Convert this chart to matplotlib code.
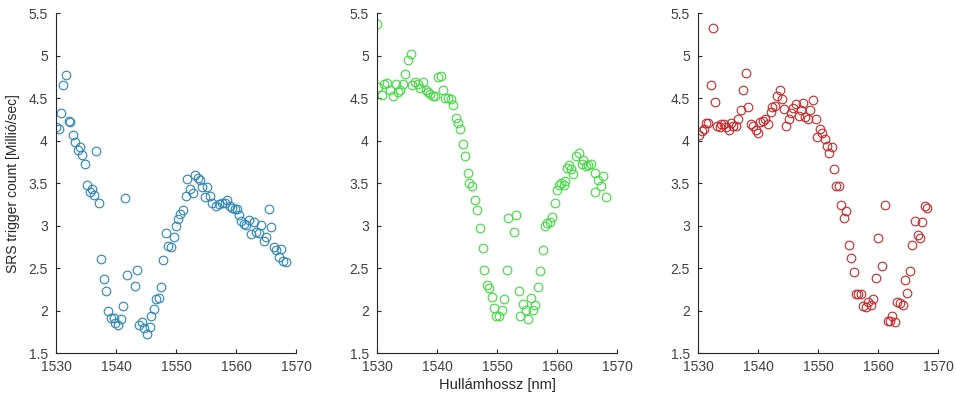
import matplotlib
matplotlib.use("Agg")
import matplotlib.pyplot as plt

plt.rcParams["font.family"] = ["Liberation Sans", "DejaVu Sans"]

# ── Data ──────────────────────────────────────────────────────────────────────
blue_x = [1530.0, 1530.5, 1530.8, 1531.1, 1531.6, 1532.1, 1532.4, 1532.8, 1533.2, 1533.6,
          1534.0, 1534.3, 1534.8, 1535.2, 1535.6, 1536.0, 1536.4, 1536.7, 1537.1, 1537.5,
          1538.0, 1538.4, 1538.7, 1539.2, 1539.6, 1539.9, 1540.4, 1540.8, 1541.1, 1541.5,
          1541.9, 1543.1, 1543.5, 1543.9, 1544.3, 1544.7, 1545.1, 1545.6, 1545.9, 1546.3,
          1546.7, 1547.1, 1547.5, 1547.9, 1548.3, 1548.7, 1549.2, 1549.6, 1550.0, 1550.3,
          1550.7, 1551.2, 1551.6, 1551.9, 1552.4, 1552.8, 1553.2, 1553.6, 1554.0, 1554.3,
          1554.8, 1555.2, 1555.6, 1556.0, 1556.7, 1557.2, 1557.7, 1558.1, 1558.5, 1559.0,
          1559.4, 1559.9, 1560.1, 1560.5, 1560.9, 1561.3, 1561.7, 1562.1, 1562.5, 1563.0,
          1563.4, 1563.8, 1564.2, 1564.7, 1565.0, 1565.5, 1565.9, 1566.3, 1566.7, 1567.1,
          1567.5, 1567.9, 1568.4]
blue_y = [4.16, 4.14, 4.33, 4.66, 4.77, 4.23, 4.22, 4.07, 3.98, 3.89,
          3.93, 3.83, 3.72, 3.48, 3.39, 3.43, 3.36, 3.88, 3.27, 2.61,
          2.37, 2.23, 2.00, 1.91, 1.91, 1.85, 1.83, 1.90, 2.05, 3.32,
          2.42, 2.29, 2.48, 1.83, 1.87, 1.79, 1.72, 1.81, 1.93, 2.02,
          2.14, 2.15, 2.28, 2.60, 2.91, 2.76, 2.75, 2.87, 2.99, 3.08,
          3.14, 3.18, 3.35, 3.55, 3.43, 3.38, 3.60, 3.56, 3.54, 3.45,
          3.34, 3.45, 3.35, 3.27, 3.23, 3.25, 3.27, 3.27, 3.30, 3.23,
          3.21, 3.20, 3.19, 3.12, 3.05, 3.02, 3.01, 3.07, 2.90, 3.04,
          2.93, 2.91, 3.01, 2.82, 2.86, 3.19, 2.98, 2.75, 2.71, 2.63,
          2.73, 2.58, 2.57]

green_x = [1530.0, 1530.2, 1530.8, 1531.2, 1531.6, 1532.1, 1532.7, 1533.1, 1533.5, 1533.9,
           1534.3, 1534.7, 1535.1, 1535.6, 1535.9, 1536.4, 1536.8, 1537.2, 1537.7, 1538.1,
           1538.5, 1538.9, 1539.3, 1539.7, 1540.2, 1540.6, 1541.0, 1541.4, 1541.8, 1542.3,
           1542.7, 1543.1, 1543.5, 1543.9, 1544.3, 1544.7, 1545.1, 1545.4, 1545.8, 1546.3,
           1546.7, 1547.1, 1547.6, 1547.9, 1548.3, 1548.7, 1549.1, 1549.5, 1549.9, 1550.3,
           1550.8, 1551.1, 1551.6, 1551.9, 1552.8, 1553.2, 1553.6, 1553.9, 1554.3, 1554.8,
           1555.2, 1555.6, 1556.0, 1556.4, 1556.8, 1557.2, 1557.6, 1558.0, 1558.4, 1558.8,
           1559.2, 1559.6, 1560.0, 1560.3, 1560.7, 1561.1, 1561.3, 1561.6, 1562.0, 1562.4,
           1562.7, 1563.2, 1563.7, 1564.1, 1564.4, 1564.8, 1565.2, 1565.7, 1566.3, 1566.4,
           1566.8, 1567.3, 1567.6, 1568.2]
green_y = [5.37, 4.63, 4.54, 4.67, 4.68, 4.60, 4.52, 4.67, 4.57, 4.59,
           4.67, 4.78, 4.95, 5.02, 4.65, 4.69, 4.67, 4.62, 4.69, 4.59,
           4.57, 4.55, 4.52, 4.53, 4.75, 4.76, 4.60, 4.50, 4.50, 4.49,
           4.42, 4.27, 4.21, 4.14, 3.96, 3.82, 3.62, 3.50, 3.47, 3.30,
           3.18, 2.97, 2.74, 2.48, 2.30, 2.26, 2.16, 2.03, 1.94, 1.93,
           2.01, 2.13, 2.48, 3.09, 2.92, 3.13, 2.23, 1.94, 2.08, 2.01,
           1.90, 2.15, 2.01, 2.06, 2.28, 2.46, 2.71, 2.99, 3.03, 3.04,
           3.10, 3.26, 3.42, 3.48, 3.50, 3.48, 3.52, 3.68, 3.71, 3.67,
           3.61, 3.82, 3.85, 3.73, 3.77, 3.70, 3.71, 3.73, 3.40, 3.62,
           3.54, 3.46, 3.58, 3.34]

red_x = [1530.2, 1530.6, 1531.0, 1531.3, 1531.7, 1532.1, 1532.5, 1532.8, 1533.2, 1533.6,
         1533.9, 1534.3, 1534.6, 1535.1, 1535.5, 1535.9, 1536.3, 1536.7, 1537.1, 1537.5,
         1538.0, 1538.3, 1538.8, 1539.1, 1539.6, 1540.0, 1540.4, 1540.8, 1541.2, 1541.6,
         1542.1, 1542.4, 1542.8, 1543.1, 1543.6, 1544.0, 1544.3, 1544.7, 1545.1, 1545.5,
         1545.9, 1546.3, 1546.8, 1547.1, 1547.5, 1547.9, 1548.3, 1548.7, 1549.1, 1549.6,
         1549.9, 1550.4, 1550.7, 1551.1, 1551.5, 1551.9, 1552.3, 1552.7, 1553.0, 1553.5,
         1553.9, 1554.4, 1554.7, 1555.2, 1555.5, 1556.0, 1556.3, 1556.7, 1557.2, 1557.5,
         1558.0, 1558.4, 1558.8, 1559.2, 1559.6, 1560.0, 1560.7, 1561.2, 1561.6, 1562.0,
         1562.4, 1562.9, 1563.2, 1563.6, 1564.1, 1564.5, 1564.9, 1565.3, 1565.7, 1566.2,
         1566.6, 1567.0, 1567.4, 1567.8, 1568.2]
red_y = [4.07, 4.11, 4.14, 4.21, 4.21, 4.65, 5.32, 4.45, 4.17, 4.16,
         4.20, 4.19, 4.16, 4.12, 4.21, 4.17, 4.17, 4.25, 4.36, 4.59,
         4.80, 4.39, 4.20, 4.17, 4.13, 4.09, 4.22, 4.23, 4.25, 4.20,
         4.34, 4.39, 4.41, 4.53, 4.59, 4.49, 4.37, 4.17, 4.26, 4.32,
         4.38, 4.43, 4.29, 4.36, 4.44, 4.28, 4.26, 4.36, 4.48, 4.25,
         4.04, 4.14, 4.09, 4.02, 3.94, 3.85, 3.93, 3.66, 3.47, 3.47,
         3.24, 3.09, 3.17, 2.77, 2.62, 2.45, 2.19, 2.19, 2.19, 2.05,
         2.04, 2.10, 2.07, 2.14, 2.38, 2.85, 2.53, 3.24, 1.88, 1.88,
         1.94, 1.87, 2.10, 2.09, 2.06, 2.36, 2.21, 2.47, 2.77, 3.05,
         2.89, 2.85, 3.04, 3.23, 3.21]

SERIES = [(blue_x, blue_y, "#2a86b8"),
          (green_x, green_y, "#3ddc3d"),
          (red_x, red_y, "#c82828")]
X_TICKS = [1530, 1540, 1550, 1560, 1570]
Y_TICKS = [1.5, 2, 2.5, 3, 3.5, 4, 4.5, 5, 5.5]
Y_LABEL = "SRS trigger count [Millió/sec]"
X_LABEL = "Hullámhossz [nm]"

# ── Plot ─────────────────────────────────────────────────────────────────────
fig = plt.figure(figsize=(9.56, 3.98), dpi=100)
lefts = [0.0586, 0.3944, 0.7302]
axes = []
for left, (xs, ys, col) in zip(lefts, SERIES):
    ax = fig.add_axes([left, 0.113, 0.251, 0.854])
    ax.plot(xs, ys, "o", ls="none", mfc="none", mec=col, ms=6.2, mew=0.8)
    ax.set_xlim(1530, 1570)
    ax.set_ylim(1.5, 5.5)
    ax.set_xticks(X_TICKS)
    ax.set_yticks(Y_TICKS)
    ax.set_yticklabels([f"{t:g}" for t in Y_TICKS])
    for s in ("top", "right"):
        ax.spines[s].set_visible(False)
    for s in ("left", "bottom"):
        ax.spines[s].set_color("#262626")
        ax.spines[s].set_linewidth(0.8)
    ax.tick_params(direction="in", length=3, width=0.8, color="#262626",
                   labelsize=10, labelcolor="#404040")
    ax.tick_params(axis="x", pad=5)
    ax.tick_params(axis="y", pad=6)
    axes.append(ax)

axes[0].set_ylabel(Y_LABEL, fontsize=10, color="#262626", labelpad=6)
axes[1].set_xlabel(X_LABEL, fontsize=10.5, color="#262626", labelpad=3)

plt.savefig("out.png", dpi=100)
plt.close()
